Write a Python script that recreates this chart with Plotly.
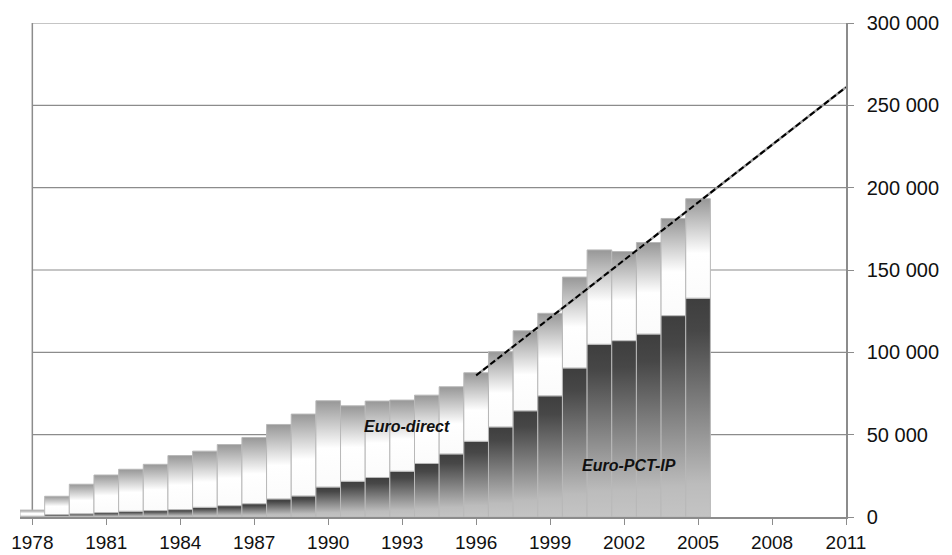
import plotly.graph_objects as go

# ---- data ----
years = list(range(1978, 2006))
euro_pct_ip = [500, 1500, 2000, 2700, 3500, 3900, 4500, 5900, 6900, 8100,
               11000, 12800, 18200, 21700, 24000, 27800, 32500, 38300, 46000, 54700,
               64500, 73600, 90500, 104900, 107100, 111100, 122300, 132900]
euro_direct = [3700, 11100, 17900, 22800, 25500, 28100, 32800, 34100, 37100, 40200,
               45200, 49700, 52400, 45800, 46400, 43200, 41500, 40800, 41600, 45700,
               48600, 50100, 55200, 57300, 54100, 55600, 59000, 60400]
trend_years = [1996, 2011]
trend_values = [86000, 261000]

x_tick_years = list(range(1978, 2012, 3))
y_tick_values = [0, 50000, 100000, 150000, 200000, 250000, 300000]
y_tick_labels = ["0", "50 000", "100 000", "150 000", "200 000", "250 000", "300 000"]

label_direct = "Euro-direct"
label_pct = "Euro-PCT-IP"

# ---- styles ----
FONT = "Liberation Sans, Arial, sans-serif"
AXIS_GRAY = "#8c8c8c"
EDGE = "#b8b8b8"
BAR_W = 1.0
pct_scale = [[0.0, "#c4c4c4"], [0.15, "#bcbcbc"], [0.85, "#474747"], [1.0, "#3e3e3e"]]
direct_scale = [[0.0, "#fbfbfb"], [0.45, "#ffffff"], [1.0, "#979797"]]

fig = go.Figure()

for yr, p, d in zip(years, euro_pct_ip, euro_direct):
    x0, x1 = yr - BAR_W / 2, yr + BAR_W / 2
    tot = p + d
    fig.add_trace(go.Scatter(
        x=[x0, x1, x1, x0, x0], y=[0, 0, p, p, 0],
        fill="toself", mode="lines",
        fillgradient=dict(type="vertical", colorscale=pct_scale),
        line=dict(color=EDGE, width=1),
        hoverinfo="skip", showlegend=False))
    fig.add_trace(go.Scatter(
        x=[x0, x1, x1, x0, x0], y=[p, p, tot, tot, p],
        fill="toself", mode="lines",
        fillgradient=dict(type="vertical", colorscale=direct_scale),
        line=dict(color=EDGE, width=1),
        hoverinfo="skip", showlegend=False))

# trend line: gray underlay + black dashes
fig.add_trace(go.Scatter(x=trend_years, y=trend_values, mode="lines",
                         line=dict(color="#9a9a9a", width=2.5),
                         hoverinfo="skip", showlegend=False))
fig.add_trace(go.Scatter(x=trend_years, y=trend_values, mode="lines",
                         line=dict(color="#000000", width=2, dash="6px,3px"),
                         hoverinfo="skip", showlegend=False))

# gridlines / frame drawn from the first tick year to the last
x_first, x_last = x_tick_years[0], x_tick_years[-1]
for v in y_tick_values[1:]:
    fig.add_shape(type="line", xref="x", yref="y", x0=x_first, x1=x_last, y0=v, y1=v,
                  line=dict(color=AXIS_GRAY, width=1.2), layer="below")
fig.add_shape(type="line", xref="x", yref="y", x0=x_first, x1=x_first,
              y0=0, y1=y_tick_values[-1],
              line=dict(color=AXIS_GRAY, width=1.5), layer="below")

fig.add_annotation(x=1993.2, y=55200, text="<b><i>" + label_direct + "</i></b>",
                   showarrow=False, font=dict(family=FONT, size=16, color="#111111"))
fig.add_annotation(x=2002.2, y=31400, text="<b><i>" + label_pct + "</i></b>",
                   showarrow=False, font=dict(family=FONT, size=16, color="#111111"))

fig.update_layout(
    width=952, height=555,
    margin=dict(l=20, r=106, t=23, b=38),
    paper_bgcolor="white", plot_bgcolor="white",
    font=dict(family=FONT, size=20, color="#111111"),
    showlegend=False,
    xaxis=dict(range=[1977.5, 2011], tickvals=x_tick_years, automargin=False,
               ticks="outside", ticklen=6, tickcolor=AXIS_GRAY, tickwidth=1.2,
               showgrid=False, zeroline=False,
               showline=True, linecolor=AXIS_GRAY, linewidth=1.5,
               ticklabelstandoff=1,
               tickfont=dict(family=FONT, size=19, color="#111111")),
    yaxis=dict(side="right", range=[0, 300000], tickvals=y_tick_values,
               ticktext=y_tick_labels, automargin=False,
               ticks="outside", ticklen=6, tickcolor=AXIS_GRAY, tickwidth=1.2,
               showgrid=False, zeroline=False,
               showline=True, linecolor=AXIS_GRAY, linewidth=1.5,
               ticklabelstandoff=9,
               tickfont=dict(family=FONT, size=20, color="#111111")),
)

fig.write_html("out.html", config={"displayModeBar": False},
               post_script="document.body.style.margin='0';document.body.style.overflow='hidden';")
